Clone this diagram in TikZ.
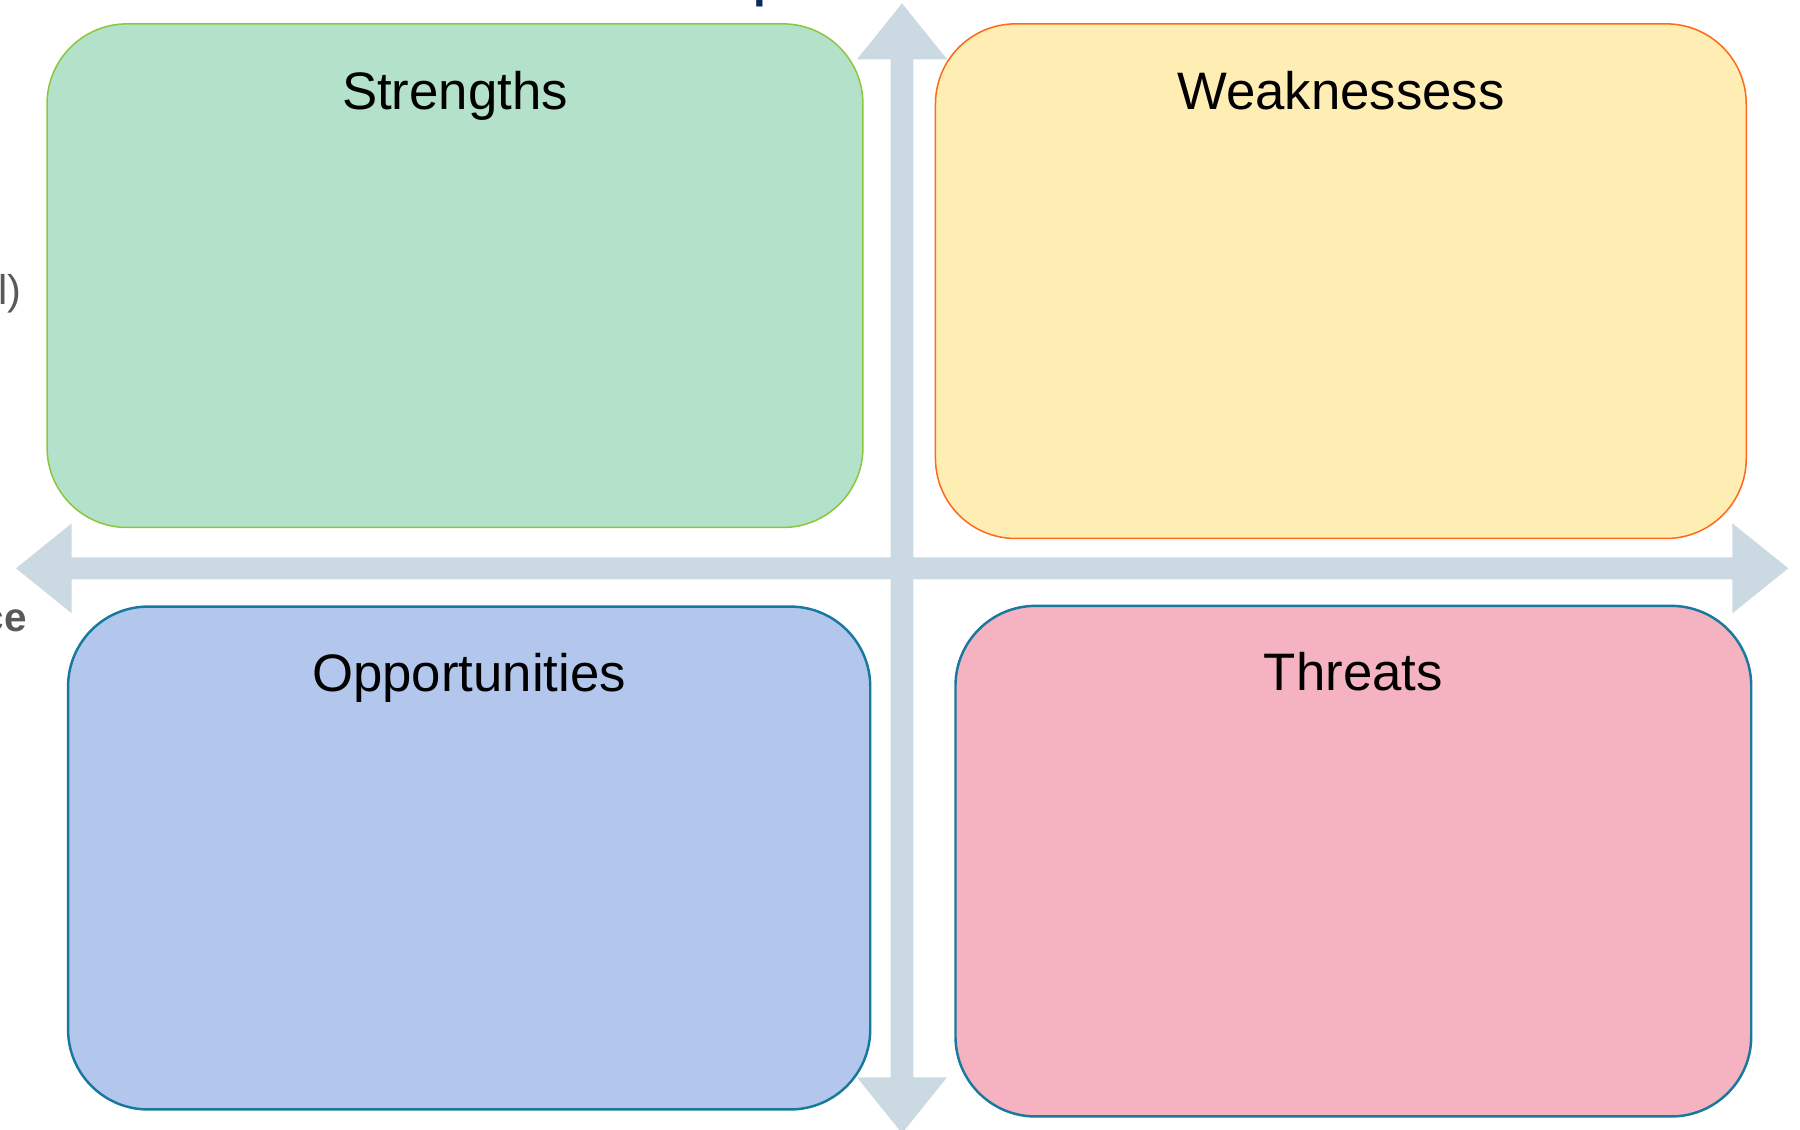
\documentclass[tikz,border=0pt]{standalone}
\usepackage{fontspec}
\setmainfont{Liberation Sans}
\usetikzlibrary{positioning}
\definecolor{axisgray}{HTML}{CBD9E2}
\definecolor{sfill}{HTML}{B4E1CA}
\definecolor{sline}{HTML}{8CC63F}
\definecolor{wfill}{HTML}{FFEEB4}
\definecolor{wline}{HTML}{FF6A1A}
\definecolor{ofill}{HTML}{B3C7EC}
\definecolor{tfill}{HTML}{F5B2C0}
\definecolor{tealline}{HTML}{17799D}
\definecolor{textgray}{HTML}{595959}
\definecolor{navy}{HTML}{0B2A5E}
\tikzset{box/.style={draw,rectangle,rounded corners=0.8cm,inner sep=0pt},
  boxtitle/.style={anchor=base,inner sep=0pt,font=\fontsize{15}{18}\selectfont}}

\begin{document}
\begin{tikzpicture}[x=0.01cm,y=-0.01cm]
\useasboundingbox (0,0) rectangle (1800,1129);

% axes
\fill[axisgray] (902,3.3) -- (947,59.3) -- (913.3,59.3) -- (913.3,1077.3) -- (947,1077.3)
  -- (902,1133.3) -- (857,1077.3) -- (890.7,1077.3) -- (890.7,59.3) -- (857,59.3) -- cycle;
\fill[axisgray] (16,568.3) -- (71.7,523.3) -- (71.7,557.3) -- (1732.3,557.3) -- (1732.3,523.3)
  -- (1788.3,568.3) -- (1732.3,613.3) -- (1732.3,579.3) -- (71.7,579.3) -- (71.7,613.3) -- cycle;

% quadrants
\node[box,fill=sfill,draw=sline,line width=0.43pt,minimum width=8.154cm,minimum height=5.033cm] (S) at (455,275.65) {};
\node[box,fill=wfill,draw=wline,line width=0.43pt,minimum width=8.103cm,minimum height=5.143cm] (W) at (1340.85,281.15) {};
\node[box,fill=ofill,draw=tealline,line width=0.7pt,minimum width=8.017cm,minimum height=5.026cm] (O) at (469.15,858) {};
\node[box,fill=tfill,draw=tealline,line width=0.7pt,minimum width=7.953cm,minimum height=5.103cm] (T) at (1353.35,861.15) {};

\path (S.north) ++(0,86) node[boxtitle] (Stitle) {Strengths};
\path (W.north) ++(0,86) node[boxtitle] (Wtitle) {Weaknessess};
\path (O.north) ++(0,86) node[boxtitle] (Otitle) {Opportunities};
\path (T.north) ++(0,86) node[boxtitle] (Ttitle) {Threats};

% cut off labels
\node[anchor=base east,inner sep=0pt,text=textgray,font=\fontsize{11.8}{14}\selectfont] (inlabel) at (22,304) {l)};
\node[anchor=base east,inner sep=0pt,text=textgray,font=\bfseries\fontsize{11.5}{14}\selectfont] (srclabel) at (27.5,631.6) {ce};
\node[anchor=base west,inner sep=0pt,text=navy,font=\bfseries\fontsize{13}{16}\selectfont] (titlefrag) at (753,-2.2) {p};

\end{tikzpicture}
\end{document}
